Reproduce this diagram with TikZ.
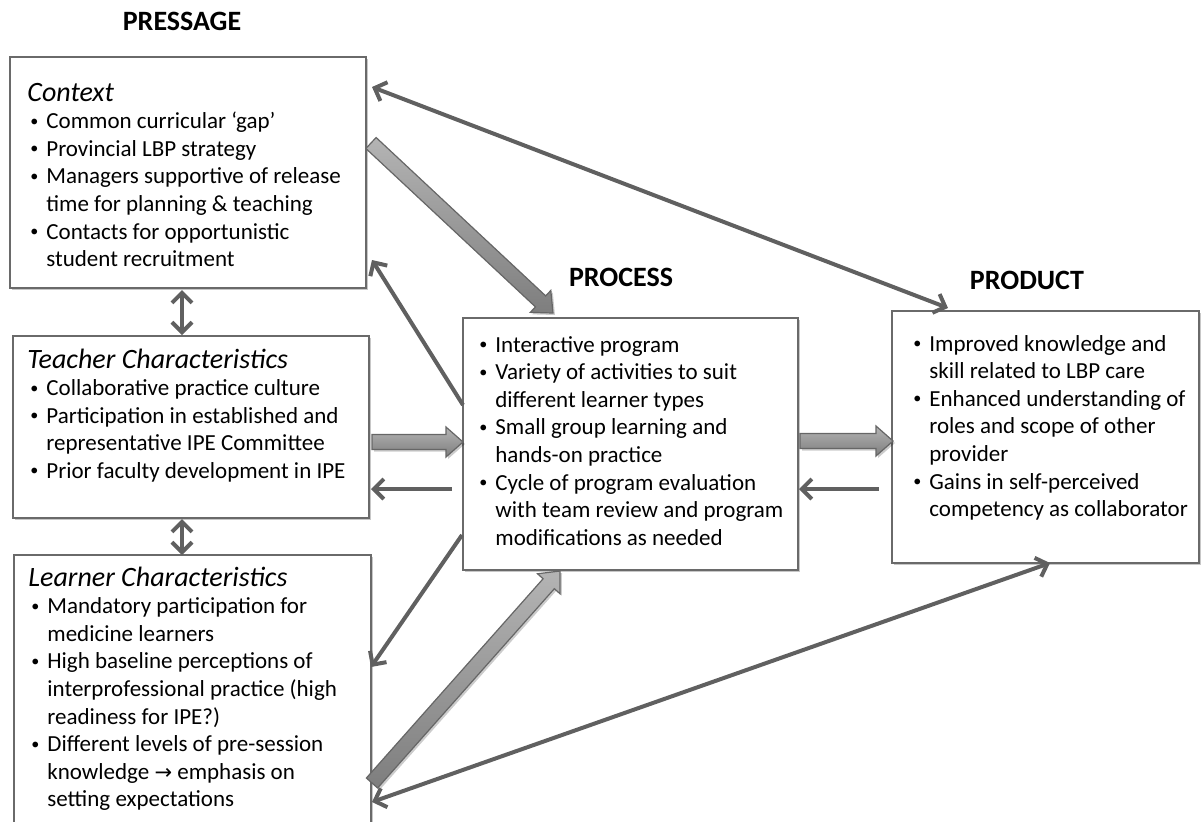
\documentclass[tikz,border=0pt]{standalone}
\usepackage{fontspec}
\setmainfont{Carlito}
\newfontfamily\symfont{DejaVu Sans}
\usetikzlibrary{calc,fit,shadows,arrows.meta}
\definecolor{edge}{HTML}{6A6A6A}
\definecolor{arr}{HTML}{606060}
\definecolor{blkA}{HTML}{B4B4B4}
\definecolor{blkB}{HTML}{7E7E7E}
\newcommand\smallbullet{\raisebox{0.22ex}{\scalebox{0.7}{\textbullet}}}
\newcommand\bl[1]{\par\hangindent=9.5pt\hangafter=1\noindent\hspace*{1.5pt}\makebox[8pt][l]{\smallbullet}#1}
\newcommand\bodyfont{\fontsize{11.5}{13.8}\selectfont}
\newcommand\headfont{\fontsize{14}{13.8}\selectfont\itshape}
\newcommand\blockarr[2]{%
  \coordinate (bhb) at ($(#2)!8.5pt!(#1)$);
  \path[blockarrow] ($(#1)!3.75pt!90:(#2)$) -- ($(bhb)!3.75pt!90:(#2)$) -- ($(bhb)!7.5pt!90:(#2)$) -- (#2)
    -- ($(bhb)!7.5pt!-90:(#2)$) -- ($(bhb)!3.75pt!-90:(#2)$) -- ($(#1)!3.75pt!-90:(#2)$) -- cycle;}
\tikzset{
  box/.style={draw=edge, line width=1pt, fill=white, inner sep=0pt,
    drop shadow={shadow xshift=1.2pt, shadow yshift=-1.2pt, opacity=0.22, fill=black}},
  txt/.style={anchor=base west, inner sep=0pt},
  ttl/.style={anchor=base, inner sep=0pt, font=\fontsize{14}{16}\selectfont\bfseries},
  link/.style={draw=arr, line width=2pt, -{Straight Barb[length=5pt,width=10pt]}},
  twoway/.style={draw=arr, line width=2pt, {Straight Barb[length=5pt,width=10pt]}-{Straight Barb[length=5pt,width=10pt]}},
  blockarrow/.style={draw=black!60, line width=0.6pt, top color=blkA, bottom color=blkB,
    drop shadow={shadow xshift=1pt, shadow yshift=-1pt, opacity=0.2, fill=black}}
}
\begin{document}
\begin{tikzpicture}[x=0.5pt,y=-0.5pt]
\useasboundingbox (0,0) rectangle (1201,821);

% titles
\node[ttl] (tPress) at (182,30) {PRESSAGE};
\node[ttl] (tProc) at (621,286) {PROCESS};
\node[ttl] (tProd) at (1027,289) {PRODUCT};

% boxes
\node[box, fit={(10,57) (366,288)}] (context) {};
\node[box, fit={(13,336) (369,518)}] (teacher) {};
\node[box, fit={(14,555) (371,826)}] (learner) {};
\node[box, fit={(463,318) (798,570)}] (process) {};
\node[box, fit={(892,311) (1199,563)}] (product) {};

% texts
\node[txt] (contextT) at (27,101) {\parbox[t]{175pt}{\bodyfont{\headfont Context}%
  \bl{Common curricular ‘gap’}%
  \bl{Provincial LBP strategy}%
  \bl{Managers supportive of release\\time for planning \& teaching}%
  \bl{Contacts for opportunistic\\student recruitment}}};

\node[txt] (teacherT) at (27,368) {\parbox[t]{175pt}{\bodyfont{\headfont Teacher Characteristics}%
  \bl{Collaborative practice culture}%
  \bl{Participation in established and\\representative IPE Committee}%
  \bl{Prior faculty development in IPE}}};

\node[txt] (learnerT) at (28,586) {\parbox[t]{175pt}{\bodyfont{\headfont Learner Characteristics}%
  \bl{Mandatory participation for\\medicine learners}%
  \bl{High baseline perceptions of\\interprofessional practice (high\\readiness for IPE?)}%
  \bl{Different levels of pre-session\\knowledge {\symfont\fontsize{10.5}{13.8}\selectfont →} emphasis on\\setting expectations}}};

\node[txt] (processT) at (476,352) {\parbox[t]{165pt}{\bodyfont
  \bl{Interactive program}%
  \bl{Variety of activities to suit\\different learner types}%
  \bl{Small group learning and\\hands-on practice}%
  \bl{Cycle of program evaluation\\with team review and program\\modifications as needed}}};

\node[txt] (productT) at (910,351) {\parbox[t]{150pt}{\bodyfont
  \bl{Improved knowledge and\\skill related to LBP care}%
  \bl{Enhanced understanding of\\roles and scope of other\\provider}%
  \bl{Gains in self-perceived\\competency as collaborator}}};

% connector end points
\coordinate (cR1) at (372,87);
\coordinate (pT1) at (948,308);
\coordinate (cR2) at (371,143);
\coordinate (prT) at (553,313);
\coordinate (prL1) at (463,405);
\coordinate (cR3) at (372,260);
\coordinate (tR1) at (372,442);
\coordinate (prL2) at (463,442);
\coordinate (prL3) at (452,489);
\coordinate (tR2) at (371,489);
\coordinate (prR1) at (800,441);
\coordinate (pL1) at (893,441);
\coordinate (pL2) at (879,489);
\coordinate (prR2) at (799,489);
\coordinate (cB) at (182,290);
\coordinate (tT) at (182,335);
\coordinate (tB) at (182,519);
\coordinate (lT) at (182,555);
\coordinate (prL4) at (462,535);
\coordinate (lR1) at (371,667);
\coordinate (lR2) at (372,783);
\coordinate (prB) at (560,571);
\coordinate (lR3) at (372,802);
\coordinate (pB) at (1050,563);

% connectors
\draw[twoway] (cR1) -- (pT1);
\blockarr{cR2}{prT}
\draw[link] (prL1) -- (cR3);
\blockarr{tR1}{prL2}
\draw[link] (prL3) -- (tR2);
\blockarr{prR1}{pL1}
\draw[link] (pL2) -- (prR2);
\draw[twoway] (cB) -- (tT);
\draw[twoway] (tB) -- (lT);
\draw[link] (prL4) -- (lR1);
\blockarr{lR2}{prB}
\draw[twoway] (lR3) -- (pB);
\end{tikzpicture}
\end{document}
